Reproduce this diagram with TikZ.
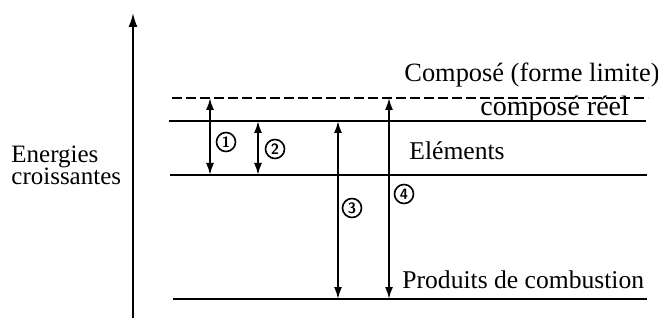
\documentclass[tikz,border=0pt]{standalone}
\usepackage{fontspec}
\setmainfont{Liberation Serif}
\usetikzlibrary{arrows.meta}
\tikzset{
  niveau/.style={line width=0.9pt},
  fleche/.style={line width=0.9pt,{Latex[length=6pt,width=4pt]}-{Latex[length=6pt,width=4pt]}},
  rond/.style={circle,draw,line width=0.8pt,inner sep=0pt,minimum size=9.5pt,font=\fontsize{7.5}{8}\sffamily\bfseries},
  texte/.style={anchor=base west,inner sep=0pt,font=\fontsize{12.8}{14}\selectfont}
}
\begin{document}
\begin{tikzpicture}[x=0.5pt,y=-0.5pt]
\useasboundingbox (0,0) rectangle (658,320);
% axe des energies
\coordinate (axe-bas) at (133,318);
\coordinate (axe-haut) at (133,13);
\draw [line width=0.9pt,-{Latex[length=7pt,width=4.5pt]}] (axe-bas) -- (axe-haut);
\node [anchor=north west, inner sep=0pt, align=left, font=\fontsize{12.5}{11}\selectfont]
  (energies) at (11,146) {Energies\\croissantes};
% niveaux
\coordinate (lim-g) at (172,98);  \coordinate (lim-d) at (648,98);
\coordinate (reel-g) at (169,121); \coordinate (reel-d) at (646,121);
\coordinate (elem-g) at (170,175); \coordinate (elem-d) at (647,175);
\coordinate (prod-g) at (173,299); \coordinate (prod-d) at (647,299);
\draw [niveau, dash pattern=on 5pt off 2pt] (lim-g) -- (lim-d);
\draw [niveau] (reel-g) -- (reel-d);
\draw [niveau] (elem-g) -- (elem-d);
\draw [niveau] (prod-g) -- (prod-d);
\node [texte, font=\fontsize{13.2}{14}\selectfont] (limite) at (404,82) {Composé (forme limite)};
\node [texte, font=\fontsize{14}{15}\selectfont] (reel) at (480,116) {composé réel};
\node [texte] (elements) at (409,160) {Eléments};
\node [texte] (produits) at (402,288) {Produits de combustion};
% fleches numerotees
\foreach \n/\x/\h/\b/\lx/\ly in {1/210/98/175/226/142, 2/258/121/175/275/149,
    3/338/121/299/352/208, 4/389/98/299/404/194}{
  \coordinate (f\n-h) at (\x,\h);
  \coordinate (f\n-b) at (\x,\b);
  \draw [fleche] (f\n-h) -- (f\n-b);
  \node [rond] (n\n) at (\lx,\ly) {\n};
}
\end{tikzpicture}
\end{document}
